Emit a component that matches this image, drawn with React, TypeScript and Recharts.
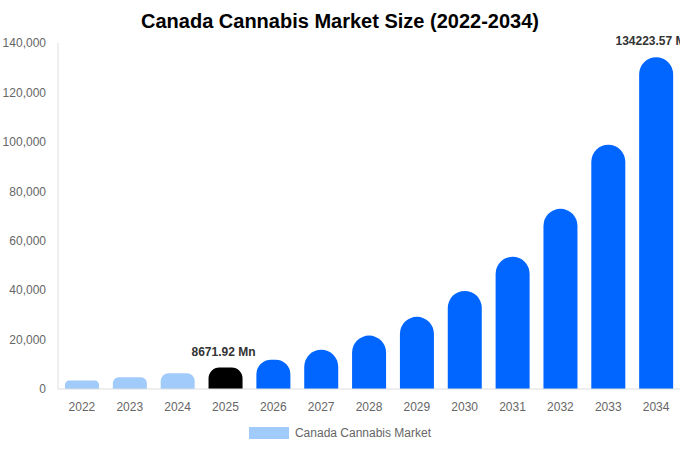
import { Bar, BarChart, Cell, LabelList, XAxis, YAxis } from "recharts";

const years = ["2022", "2023", "2024", "2025", "2026", "2027", "2028", "2029", "2030", "2031", "2032", "2033", "2034"];
const marketSize = [3480, 4720, 6400, 8671.92, 11800, 15900, 21600, 29200, 39700, 53500, 72900, 98800, 134223.57];
const yTicks = [0, 20000, 40000, 60000, 80000, 100000, 120000, 140000];
const labelledYears = ["2025", "2034"];

const FONT = "'Liberation Sans', Arial, Helvetica, sans-serif";
const PAST = "#a0cbfa";
const CURRENT = "#000000";
const FORECAST = "#0066ff";

const data = years.map((year, i) => ({ year, value: marketSize[i] }));

function barColor(year: string) {
  if (year < "2025") return PAST;
  if (year === "2025") return CURRENT;
  return FORECAST;
}

function ValueLabel(props: any) {
  const { x, y, width, index } = props;
  const row = data[index];
  if (!row || !labelledYears.includes(row.year)) return null;
  return (
    <text
      x={x + width / 2 - 2}
      y={y - 12}
      textAnchor="middle"
      fontSize={12}
      fontWeight="bold"
      fill="#333"
      fontFamily={FONT}
    >
      {`${row.value.toFixed(2)} Mn`}
    </text>
  );
}

export default function App() {
  return (
    <div style={{ position: "relative", width: 680, height: 450, fontFamily: FONT }}>
      <style>{`body{margin:0}`}</style>
      <div
        style={{
          position: "absolute",
          top: 8,
          left: 0,
          width: 680,
          textAlign: "center",
          fontSize: 20,
          fontWeight: "bold",
          color: "#000",
          lineHeight: "26px",
        }}
      >
        Canada Cannabis Market Size (2022-2034)
      </div>
      <BarChart width={680} height={450} data={data} margin={{ top: 43, right: 0, left: 0, bottom: 0 }}>
        <XAxis
          dataKey="year"
          height={61}
          tickLine={false}
          axisLine={{ stroke: "#ddd" }}
          tickMargin={7}
          tick={{ fontSize: 12, fill: "#666", fontFamily: FONT }}
          interval={0}
        />
        <YAxis
          width={58}
          domain={[0, 140000]}
          ticks={yTicks}
          tickLine={false}
          axisLine={{ stroke: "#ddd" }}
          tickMargin={6}
          tick={{ fontSize: 12, fill: "#666", fontFamily: FONT }}
          tickFormatter={(v: number) => v.toLocaleString("en-US")}
        />
        <Bar dataKey="value" name="Canada Cannabis Market" barSize={34} radius={[17, 17, 0, 0]} isAnimationActive={false}>
          {data.map((d) => (
            <Cell key={d.year} fill={barColor(d.year)} />
          ))}
          <LabelList dataKey="value" content={ValueLabel} />
        </Bar>
      </BarChart>
      <div
        style={{
          position: "absolute",
          top: 426,
          left: 0,
          width: 680,
          display: "flex",
          justifyContent: "center",
          alignItems: "center",
          fontSize: 12,
          color: "#666",
        }}
      >
        <span style={{ display: "inline-block", width: 40, height: 12, background: PAST, marginRight: 6 }} />
        <span>Canada Cannabis Market</span>
      </div>
    </div>
  );
}
